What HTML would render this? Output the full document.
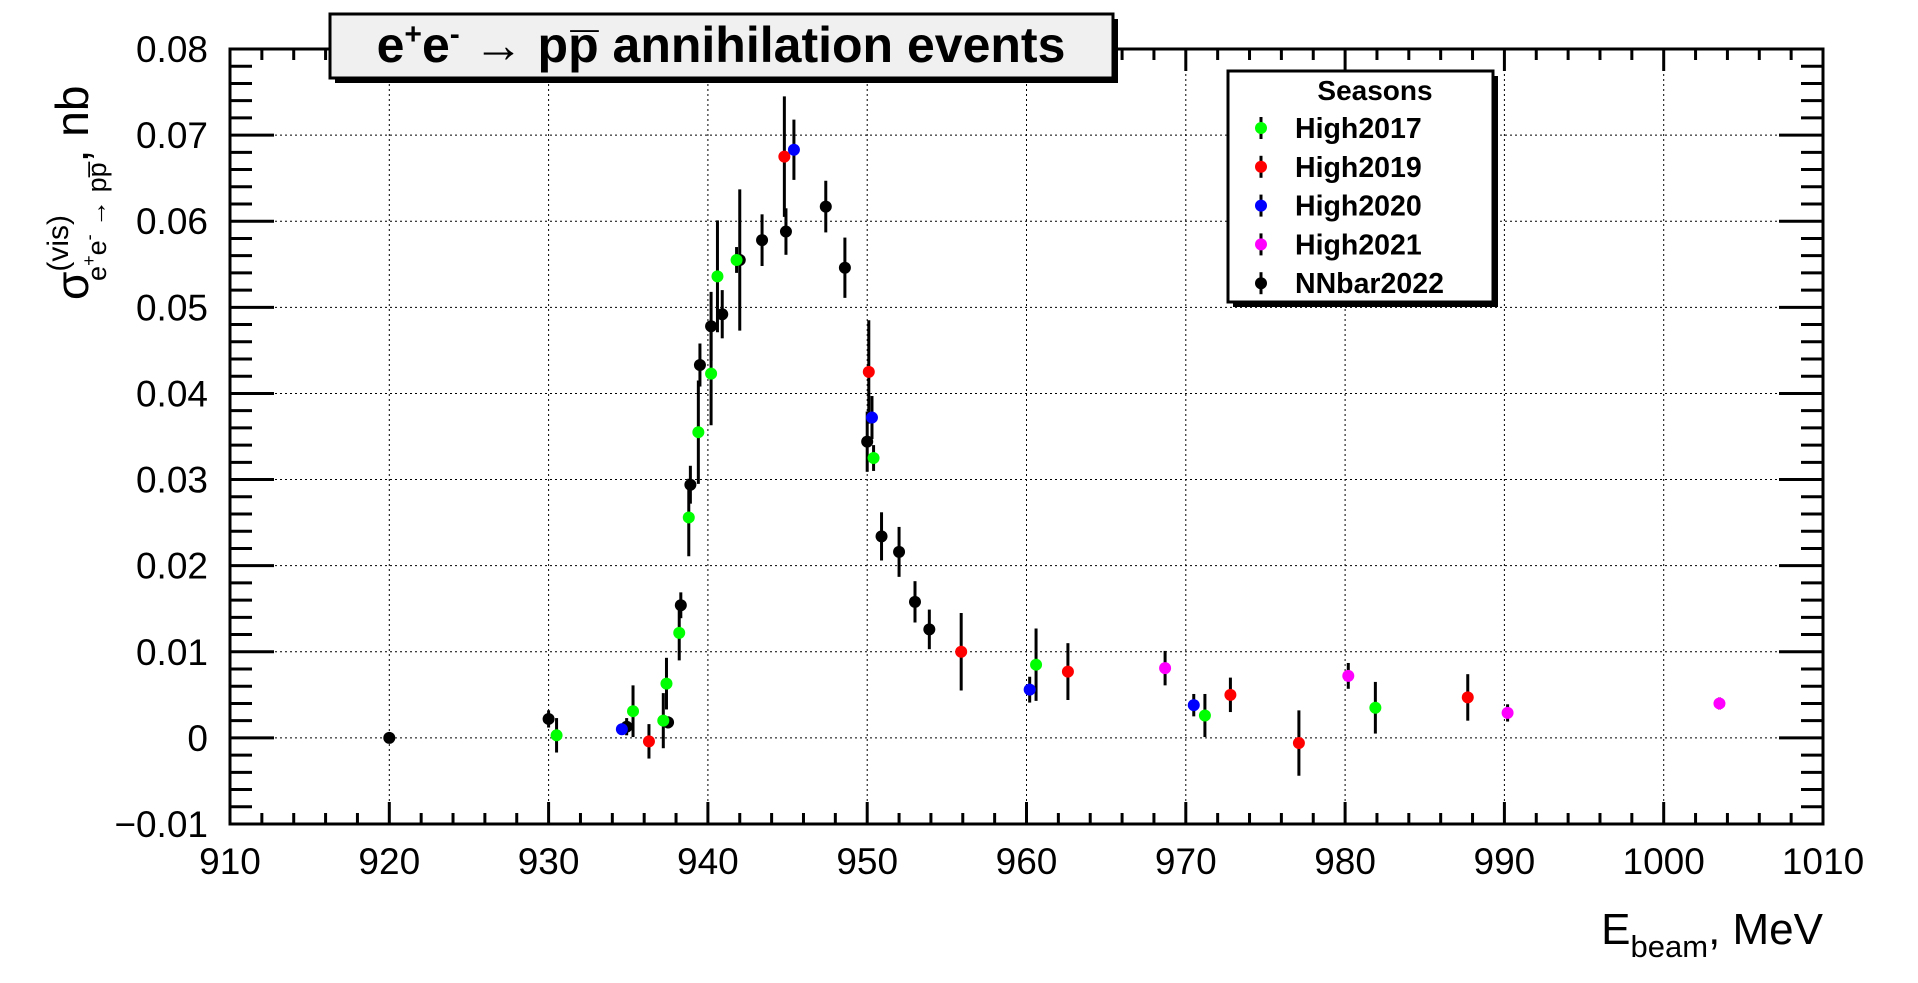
<!DOCTYPE html>
<html><head><meta charset="utf-8"><style>
html,body{margin:0;padding:0;background:#fff;}
svg{display:block;font-family:"Liberation Sans",sans-serif;}
</style></head><body>
<svg id="chart" width="1918" height="983" viewBox="0 0 1918 983" xmlns="http://www.w3.org/2000/svg">
<rect width="1918" height="983" fill="#fff"/>
<g id="grid"></g>
<g id="ticks"></g>
<rect x="230" y="49" width="1593" height="775" fill="none" stroke="#000" stroke-width="3"/>
<g id="marks"></g>
<g>
<rect x="335" y="19" width="783" height="64" fill="#000"/>
<rect x="330" y="14" width="783" height="64" fill="#f0f0f0" stroke="#000" stroke-width="3"/>
<text x="721" y="62" text-anchor="middle" font-weight="bold" font-size="50">e<tspan font-size="30" dy="-18">+</tspan><tspan dy="18">e</tspan><tspan font-size="30" dy="-18">-</tspan><tspan dy="18"> → pp̅ annihilation events</tspan></text>
</g>
<g id="legend">
<rect x="1233" y="76" width="265" height="231" fill="#000"/>
<rect x="1228" y="71" width="265" height="231" fill="#fff" stroke="#000" stroke-width="3"/>
<text x="1375" y="100" text-anchor="middle" font-weight="bold" font-size="28">Seasons</text>
</g>
<g id="yticklabels" font-size="37" text-anchor="end"></g>
<g id="xticklabels" font-size="37" text-anchor="middle"></g>
<text transform="translate(88,300) rotate(-90)" font-size="46">σ<tspan font-size="30" dy="-20">(vis)</tspan><tspan font-size="27" dx="-66" dy="38">e</tspan><tspan font-size="18" dy="-11">+</tspan><tspan font-size="27" dy="11">e</tspan><tspan font-size="18" dy="-11">-</tspan><tspan font-size="27" dy="11"> → pp̅</tspan><tspan dy="-18">, nb</tspan></text>
<text x="1823" y="944" text-anchor="end" font-size="44">E<tspan font-size="31" dy="13">beam</tspan><tspan dy="-13">, MeV</tspan></text>
</svg>
<script>
const NS="http://www.w3.org/2000/svg";
const seriesNames=["High2017","High2019","High2020","High2021","NNbar2022"];
const seriesColors=["#00ff00","#ff0000","#0000ff","#ff00ff","#000000"];
const xTicks=[910,920,930,940,950,960,970,980,990,1000,1010];
const yTicks=[-0.01,0,0.01,0.02,0.03,0.04,0.05,0.06,0.07,0.08];
const yTickLabels=["\u22120.01","0","0.01","0.02","0.03","0.04","0.05","0.06","0.07","0.08"];
const e2017=[930.5,935.3,937.2,937.4,938.2,938.8,939.4,940.2,940.6,941.8,950.4,960.6,971.2,981.9];
const v2017=[0.0003,0.0031,0.002,0.0063,0.0122,0.0256,0.0355,0.0423,0.0536,0.0555,0.0325,0.0085,0.0026,0.0035];
const err2017=[0.002,0.003,0.0032,0.003,0.0032,0.0045,0.006,0.006,0.0065,0.0015,0.0015,0.0042,0.0025,0.003];
const e2019=[936.3,944.8,950.1,955.9,962.6,972.8,977.1,987.7];
const v2019=[-0.0004,0.0675,0.0425,0.010,0.0077,0.005,-0.0006,0.0047];
const err2019=[0.002,0.007,0.006,0.0045,0.0033,0.002,0.0038,0.0027];
const e2020=[934.6,945.4,950.3,960.2,970.5];
const v2020=[0.001,0.0683,0.0372,0.0056,0.0038];
const err2020=[0.0006,0.0035,0.0025,0.0015,0.0013];
const e2021=[968.7,980.2,990.2,1003.5];
const v2021=[0.0081,0.0072,0.0029,0.004];
const err2021=[0.002,0.0015,0.001,0.0007];
const e2022=[920.0,930.0,934.9,937.5,938.3,938.9,939.5,940.2,940.9,942.0,943.4,944.9,947.4,948.6,950.0,950.9,952.0,953.0,953.9];
const v2022=[0,0.0022,0.0013,0.0018,0.0154,0.0294,0.0433,0.0478,0.0492,0.0555,0.0578,0.0588,0.0617,0.0546,0.0344,0.0234,0.0216,0.0158,0.0126];
const err2022=[0.0003,0.001,0.001,0.0007,0.0015,0.0022,0.0025,0.004,0.0028,0.0082,0.003,0.0027,0.003,0.0035,0.0035,0.0028,0.0029,0.0024,0.0023];
const allE=[e2017,e2019,e2020,e2021,e2022], allV=[v2017,v2019,v2020,v2021,v2022], allErr=[err2017,err2019,err2020,err2021,err2022];
const L=230,R=1823,T=49,B=824, X0=910,X1=1010,Y0=-0.01,Y1=0.08;
const xs=v=>L+(v-X0)/(X1-X0)*(R-L);
const ys=v=>B-(v-Y0)/(Y1-Y0)*(B-T);
function mk(tag,attrs,parent){const el=document.createElementNS(NS,tag);for(const k in attrs)el.setAttribute(k,attrs[k]);parent.appendChild(el);return el;}
const grid=document.getElementById('grid'),ticks=document.getElementById('ticks');
xTicks.forEach((t,i)=>{
  const x=xs(t);
  if(i>0&&i<xTicks.length-1){const g=mk('line',{x1:x,x2:x,y1:T,y2:B,stroke:'#000','stroke-width':1,'stroke-dasharray':'2,3'},grid);
  
  }
  const lab=mk('text',{x:x,y:B+50},document.getElementById('xticklabels'));lab.textContent=t;
  
  
});
for(let v=X0;v<=X1;v+=2){const x=xs(v);const big=(v%10===0);const len=big?22:11;
  mk('line',{x1:x,x2:x,y1:B,y2:B-len,stroke:'#000','stroke-width':3},ticks);
  mk('line',{x1:x,x2:x,y1:T,y2:T+len,stroke:'#000','stroke-width':3},ticks);}
yTicks.forEach((t,i)=>{
  const y=ys(t);
  if(i>0&&i<yTicks.length-1){const g=mk('line',{x1:L,x2:R,y1:y,y2:y,stroke:'#000','stroke-width':1,'stroke-dasharray':'2,3'},grid);
  
  }
  const lab=mk('text',{x:L-22,y:y+13},document.getElementById('yticklabels'));lab.textContent=yTickLabels[i];
  
  
});
for(let k=0;k<=45;k++){const v=Y0+k*0.002;const y=ys(v);const big=(k%5===0);const len=big?44:22;
  mk('line',{x1:L,x2:L+len,y1:y,y2:y,stroke:'#000','stroke-width':3},ticks);
  mk('line',{x1:R,x2:R-len,y1:y,y2:y,stroke:'#000','stroke-width':3},ticks);}
const marks=document.getElementById('marks');
const order=[4,0,1,2,3];
order.forEach(s=>{
  allE[s].forEach((e,i)=>{
    const x=xs(e),y=ys(allV[s][i]),er=allErr[s][i];
    const l=mk('line',{x1:x,x2:x,y1:ys(allV[s][i]+er),y2:ys(allV[s][i]-er),stroke:'#000','stroke-width':3},marks);
    
    
    const c=mk('circle',{cx:x,cy:y,r:6,fill:seriesColors[s]},marks);
    
    
  });
});
const leg=document.getElementById('legend');
seriesNames.forEach((n,i)=>{
  const y=128+i*38.8;
  mk('line',{x1:1261,x2:1261,y1:y-11,y2:y+11,stroke:'#000','stroke-width':3},leg);
  const c=mk('circle',{cx:1261,cy:y,r:6,fill:seriesColors[i]},leg);
  
  
  const t=mk('text',{x:1295,y:y+10,'font-size':28.5,'font-weight':'bold'},leg);t.textContent=n;
  
  
});
</script>
</body></html>
